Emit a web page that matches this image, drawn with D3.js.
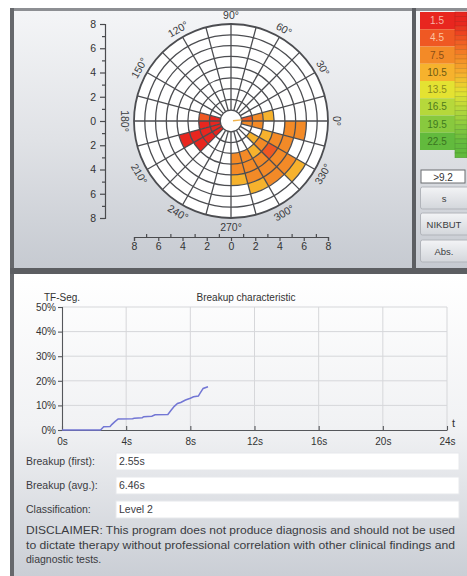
<!DOCTYPE html>
<html>
<head>
<meta charset="utf-8">
<script src="https://cdn.jsdelivr.net/npm/d3@7"></script>
<style>
  html, body { margin: 0; padding: 0; background: #ffffff; }
  svg { display: block; font-family: "Liberation Sans", Arial, sans-serif; }
</style>
</head>
<body>
<svg id="chart" width="467" height="576"></svg>
<script>
// ---------- Map data ----------
const legendLevels = [1.5, 4.5, 7.5, 10.5, 13.5, 16.5, 19.5, 22.5];
const legendColors = ["#e8261f", "#ef5823", "#f38a27", "#f6b22d", "#e4e232", "#b6d83b", "#88c93e", "#62ba3d"];
const legendTextColors = ["#f7b7a8", "#fbc4a0", "#8a4e16", "#6e5a12", "#8b8a1d", "#4f7a1c", "#3f7a1f", "#3a7420"];
const angleLabels = [0, 30, 60, 90, 120, 150, 180, 210, 240, 270, 300, 330];
const axisMajor = [-8, -6, -4, -2, 0, 2, 4, 6, 8];
const axisMinor = [-7, -5, -3, -1, 1, 3, 5, 7];

// Map cells: [sector (15° steps, counter-clockwise from 0°), ring (1 = innermost), level]
const polarCells = [
  [11, 1, 1.5], [11, 2, 4.5],
  [12, 1, 1.5], [12, 2, 1.5],
  [13, 1, 1.5], [13, 2, 1.5], [13, 3, 1.5], [13, 4, 1.5],
  [14, 1, 1.5], [14, 2, 1.5], [14, 3, 1.5],
  [0, 1, 4.5], [0, 2, 7.5], [0, 3, 10.5],
  [23, 1, 7.5], [23, 2, 7.5], [23, 5, 7.5], [23, 6, 7.5],
  [22, 3, 10.5], [22, 4, 7.5], [22, 5, 7.5],
  [21, 2, 10.5], [21, 3, 7.5], [21, 4, 4.5], [21, 5, 7.5], [21, 6, 7.5], [21, 7, 10.5],
  [20, 3, 10.5], [20, 4, 7.5], [20, 5, 7.5], [20, 6, 7.5],
  [19, 3, 7.5], [19, 4, 7.5], [19, 5, 7.5], [19, 6, 10.5],
  [18, 3, 7.5], [18, 4, 7.5], [18, 5, 10.5]
];

// ---------- Breakup curve ----------
const breakupTime = [0, 2.4, 2.6, 3.0, 3.1, 3.3, 3.5, 4.4, 4.5, 5.0, 5.1, 5.6, 5.8, 6.6, 6.8, 7.0, 7.2, 7.4, 7.7, 8.0, 8.2, 8.5, 8.6, 8.8, 9.1];
const breakupPct  = [0, 0, 1.3, 1.4, 2.2, 3.4, 4.5, 4.6, 4.8, 5.0, 5.4, 5.6, 6.2, 6.3, 8.0, 9.6, 10.8, 11.2, 12.2, 12.9, 13.5, 13.8, 14.9, 16.9, 17.6];
const timeTicks = [0, 4, 8, 12, 16, 20, 24];
const pctTicks = [0, 10, 20, 30, 40, 50];

const fieldLabels = ["Breakup (first):", "Breakup (avg.):", "Classification:"];
const fieldValues = ["2.55s", "6.46s", "Level 2"];
const buttonLabels = ["s", "NIKBUT", "Abs."];
const thresholdLabel = ">9.2";
const disclaimerLines = [
  "DISCLAIMER: This program does not produce diagnosis and should not be used",
  "to dictate therapy without professional correlation with other clinical findings and",
  "diagnostic tests."
];

const svg = d3.select("#chart");
const defs = svg.append("defs");

function vGrad(id, stops) {
  const g = defs.append("linearGradient").attr("id", id)
    .attr("x1", 0).attr("y1", 0).attr("x2", 0).attr("y2", 1);
  stops.forEach(([o, c]) => g.append("stop").attr("offset", o).attr("stop-color", c));
}
vGrad("panelTop", [[0, "#f4f5f7"], [0.5, "#e0e2e6"], [1, "#c6cad1"]]);
vGrad("panelBottom", [[0, "#ffffff"], [0.5, "#f1f2f4"], [0.7, "#e2e4e8"], [1, "#caced5"]]);
vGrad("button", [[0, "#f3f4f6"], [1, "#d3d6db"]]);

// ---------- Frames ----------
svg.append("rect").attr("x", 14).attr("y", 11).attr("width", 398).attr("height", 257).attr("fill", "url(#panelTop)");
svg.append("rect").attr("x", 416).attr("y", 11).attr("width", 51).attr("height", 257).attr("fill", "url(#panelTop)");
svg.append("rect").attr("x", 14).attr("y", 274).attr("width", 453).attr("height", 302).attr("fill", "url(#panelBottom)");
svg.append("rect").attr("x", 10).attr("y", 8).attr("width", 457).attr("height", 3).attr("fill", "#8d8f93");
svg.append("rect").attr("x", 10).attr("y", 8).attr("width", 4).attr("height", 568).attr("fill", "#66686c");
svg.append("rect").attr("x", 412).attr("y", 8).attr("width", 4).attr("height", 266).attr("fill", "#5c5e62");
svg.append("rect").attr("x", 10).attr("y", 268).attr("width", 457).attr("height", 6).attr("fill", "#5c5e62");

// ---------- Polar map ----------
const cx = 231, cy = 121, outerR = 97;
const ringCount = 9; // ring 0 is the empty centre
const rScale = d3.scaleLinear().domain([0, ringCount]).range([0, outerR]);
const colorOf = d3.scaleOrdinal().domain(legendLevels).range(legendColors);
const toRad = d => d * Math.PI / 180;

const polar = svg.append("g").attr("transform", `translate(${cx},${cy})`);
polar.append("circle").attr("r", outerR).attr("fill", "#ffffff");

const arc = d3.arc();
polar.selectAll("path.cell").data(polarCells).join("path")
  .attr("class", "cell")
  .attr("fill", d => colorOf(d[2]))
  .attr("d", d => arc({
    innerRadius: rScale(d[1]),
    outerRadius: rScale(d[1] + 1),
    startAngle: toRad(90 - (d[0] + 1) * 15),
    endAngle: toRad(90 - d[0] * 15)
  }));

// spokes every 15°
const spokes = d3.range(0, 360, 15);
polar.selectAll("line.spoke").data(spokes).join("line")
  .attr("x1", a => rScale(1) * Math.cos(toRad(a)))
  .attr("y1", a => -rScale(1) * Math.sin(toRad(a)))
  .attr("x2", a => outerR * Math.cos(toRad(a)))
  .attr("y2", a => -outerR * Math.sin(toRad(a)))
  .attr("stroke", "#4c4d51").attr("stroke-width", 1.3);

polar.selectAll("circle.ring").data(d3.range(1, ringCount)).join("circle")
  .attr("r", d => rScale(d)).attr("fill", "none")
  .attr("stroke", "#4c4d51").attr("stroke-width", 1.3);
polar.append("circle").attr("r", outerR).attr("fill", "none")
  .attr("stroke", "#4c4d51").attr("stroke-width", 1.8);

// centre marker
polar.append("line")
  .attr("x1", 2 * Math.cos(toRad(6))).attr("y1", -2 * Math.sin(toRad(6)))
  .attr("x2", rScale(1) * Math.cos(toRad(6))).attr("y2", -rScale(1) * Math.sin(toRad(6)))
  .attr("stroke", "#f1b34c").attr("stroke-width", 1.4);

// angle labels
polar.selectAll("text.ang").data(angleLabels).join("text")
  .attr("class", "ang")
  .attr("font-size", 10.5).attr("fill", "#3a3b3e")
  .attr("text-anchor", "middle").attr("dy", "0.35em")
  .attr("transform", a => {
    const lr = 106;
    const x = lr * Math.cos(toRad(a)), y = -lr * Math.sin(toRad(a));
    const rot = (a > 0 && a < 180) ? 90 - a : (a === 0 ? 90 : 270 - a);
    return `translate(${x},${y}) rotate(${rot})`;
  })
  .text(a => a + "°");

// vertical distance axis
const yMap = d3.scaleLinear().domain([8, -8]).range([cy - outerR, cy + outerR]);
svg.append("g").attr("transform", "translate(105,0)")
  .call(d3.axisLeft(yMap).tickValues(axisMajor).tickSize(5).tickPadding(4).tickFormat(d => Math.abs(d)));
svg.append("g").attr("transform", "translate(105,0)")
  .call(d3.axisLeft(yMap).tickValues(axisMinor).tickSize(3).tickFormat(""))
  .select(".domain").remove();

// horizontal distance axis
const xMap = d3.scaleLinear().domain([-8, 8]).range([cx - outerR, cx + outerR]);
svg.append("g").attr("transform", "translate(0,237)")
  .call(d3.axisBottom(xMap).tickValues(axisMajor).tickSize(4).tickPadding(2).tickFormat(d => Math.abs(d)));
svg.append("g").attr("transform", "translate(0,237)")
  .call(d3.axisTop(xMap).tickValues(axisMinor).tickSize(3).tickFormat(""))
  .select(".domain").remove();

svg.selectAll(".tick text").attr("font-size", 10.5).attr("fill", "#333").attr("font-family", "Liberation Sans, Arial, sans-serif");
svg.selectAll(".domain, .tick line").attr("stroke", "#4a4b4e").attr("stroke-width", 1.2);

// ---------- Legend ----------
const legTop = 12, legRow = 17.25;
const legend = svg.append("g");
legend.selectAll("rect.lv").data(legendLevels).join("rect")
  .attr("x", 420).attr("y", (d, i) => legTop + i * legRow)
  .attr("width", 35).attr("height", legRow)
  .attr("fill", (d, i) => legendColors[i]);
legend.selectAll("text.lv").data(legendLevels).join("text")
  .attr("x", 437).attr("y", (d, i) => legTop + i * legRow + legRow / 2)
  .attr("dy", "0.35em").attr("text-anchor", "middle")
  .attr("font-size", 10).attr("fill", (d, i) => legendTextColors[i])
  .text(d => d);
// gradient stripes
const stripeColor = d3.scaleLinear()
  .domain(legendLevels.map((d, i) => legTop + (i + 0.5) * legRow))
  .range(legendColors).clamp(true);
const stripes = d3.range(legTop, legTop + 8 * legRow + 4, 4.7);
legend.selectAll("rect.st").data(stripes).join("rect")
  .attr("x", 455).attr("y", d => d).attr("width", 12).attr("height", 4.7)
  .attr("fill", d => stripeColor(d)).attr("stroke", d => d3.color(stripeColor(d)).darker(0.5)).attr("stroke-width", 0.6);

// threshold box
svg.append("rect").attr("x", 421).attr("y", 170).attr("width", 44).attr("height", 13)
  .attr("fill", "#ffffff").attr("stroke", "#6a6c70").attr("stroke-width", 1);
svg.append("text").attr("x", 443).attr("y", 180.5).attr("text-anchor", "middle")
  .attr("font-size", 10).attr("fill", "#333").text(thresholdLabel);

// buttons
const btnY = [187, 213, 240];
buttonLabels.forEach((b, i) => {
  svg.append("rect").attr("x", 420.5).attr("y", btnY[i]).attr("width", 50).attr("height", 22).attr("rx", 2)
    .attr("fill", "url(#button)").attr("stroke", "#b1b4ba");
  svg.append("text").attr("x", 444).attr("y", btnY[i] + 14.5).attr("text-anchor", "middle")
    .attr("font-size", 9.5).attr("fill", "#3b3c40").text(b);
});

// ---------- Breakup characteristic ----------
const x = d3.scaleLinear().domain([0, 24]).range([62, 447]);
const y = d3.scaleLinear().domain([0, 50]).range([430, 307]);

const grid = svg.append("g").attr("stroke", "#d6d7da").attr("stroke-width", 1);
grid.selectAll("line.h").data(pctTicks.slice(1)).join("line")
  .attr("x1", x(0)).attr("x2", x(24)).attr("y1", d => y(d)).attr("y2", d => y(d));
grid.selectAll("line.v").data(timeTicks.slice(1)).join("line")
  .attr("y1", y(0)).attr("y2", y(50)).attr("x1", d => x(d)).attr("x2", d => x(d));

const yAx = svg.append("g").attr("transform", `translate(${x(0)},0)`)
  .call(d3.axisLeft(y).tickValues(pctTicks).tickSize(4).tickPadding(2).tickFormat(d => d + "%"));
const xAx = svg.append("g").attr("transform", `translate(0,${y(0)})`)
  .call(d3.axisBottom(x).tickValues(timeTicks).tickSizeInner(-4).tickSizeOuter(0).tickPadding(8).tickFormat(d => d + "s"));
[yAx, xAx].forEach(g => {
  g.selectAll(".tick text").attr("font-size", 10).attr("fill", "#333");
  g.selectAll(".domain, .tick line").attr("stroke", "#55575b").attr("stroke-width", 1.1);
});

svg.append("path")
  .datum(breakupTime.map((t, i) => [t, breakupPct[i]]))
  .attr("fill", "none").attr("stroke", "#7276d4").attr("stroke-width", 1.5)
  .attr("d", d3.line().x(d => x(d[0])).y(d => y(d[1])));

svg.append("text").attr("x", 44).attr("y", 301).attr("font-size", 10).attr("fill", "#333").text("TF-Seg.");
svg.append("text").attr("x", 246).attr("y", 301).attr("text-anchor", "middle").attr("font-size", 10).attr("fill", "#333").text("Breakup characteristic");
svg.append("text").attr("x", 452).attr("y", 427).attr("font-size", 11).attr("fill", "#333").text("t");

// ---------- Result fields ----------
const fieldY = [453, 477, 501];
fieldLabels.forEach((l, i) => {
  svg.append("text").attr("x", 26).attr("y", fieldY[i] + 12).attr("font-size", 10.5).attr("fill", "#3a3b3f").text(l);
  svg.append("rect").attr("x", 116).attr("y", fieldY[i]).attr("width", 343).attr("height", 17)
    .attr("fill", "#ffffff").attr("stroke", "#e6e8eb");
  svg.append("text").attr("x", 119).attr("y", fieldY[i] + 12).attr("font-size", 10.5).attr("fill", "#3a3b3f").text(fieldValues[i]);
});

const discY = [534, 549, 563];
const discW = [429, 429, null];
disclaimerLines.forEach((l, i) => {
  const t = svg.append("text").attr("x", 26).attr("y", discY[i]).attr("font-size", 10.5).attr("fill", "#3a3b3f").text(l);
  if (discW[i]) t.attr("textLength", discW[i]).attr("lengthAdjust", "spacingAndGlyphs");
});
</script>
</body>
</html>
